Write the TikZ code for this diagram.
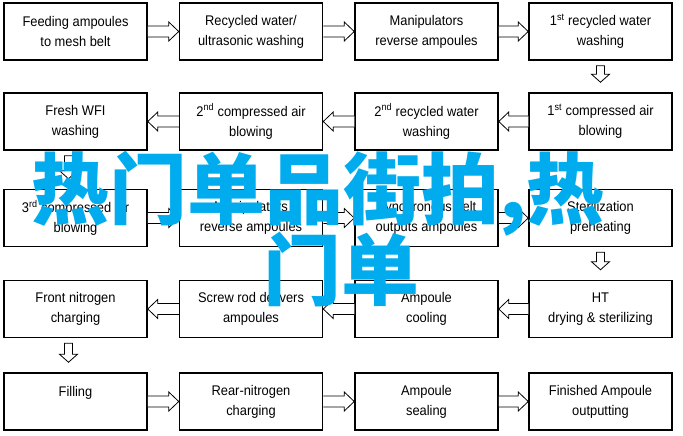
\documentclass[tikz,border=0pt]{standalone}
\usepackage{fontspec}
\setmainfont{Liberation Sans}[FakeStretch=0.92]
\newfontfamily\cjk{Noto Sans CJK SC}
\usetikzlibrary{calc}
\definecolor{overlaycyan}{RGB}{0,172,238}
\newcommand\rarr[2]{\path[arr] let \p1=(#1.east), \p2=(#2.west) in
  (\x1,\y1+5.5pt) -- (\x2-10pt,\y1+5.5pt) -- (\x2-10pt,\y1+9.5pt) -- (\x2,\y1)
  -- (\x2-10pt,\y1-9.5pt) -- (\x2-10pt,\y1-5.5pt) -- (\x1,\y1-5.5pt);}
\newcommand\larr[2]{\path[arr] let \p1=(#1.west), \p2=(#2.east) in
  (\x1,\y1+5.5pt) -- (\x2+10pt,\y1+5.5pt) -- (\x2+10pt,\y1+9.5pt) -- (\x2,\y1)
  -- (\x2+10pt,\y1-9.5pt) -- (\x2+10pt,\y1-5.5pt) -- (\x1,\y1-5.5pt);}
\newcommand\darr[3][0pt]{\path[arr] let \p1=(#2.south), \p2=(#3.north) in
  (\x1+#1-4pt,\y1-5pt) -- (\x1+#1-4pt,\y2+18pt) -- (\x1+#1-9pt,\y2+18pt) -- (\x1+#1,\y2+10pt)
  -- (\x1+#1+9pt,\y2+18pt) -- (\x1+#1+4pt,\y2+18pt) -- (\x1+#1+4pt,\y1-5pt) -- cycle;}
\begin{document}
\begin{tikzpicture}[x=1pt,y=-1pt,
  box/.style={draw, line width=1.5pt, minimum width=143pt, minimum height=57pt,
    align=center, inner sep=0pt, font=\fontsize{14}{20}\selectfont},
  arr/.style={draw, line width=0.8pt, fill=white, line join=miter},
  overlay/.style={inner sep=0pt, text=overlaycyan, font=\cjk\bfseries\fontsize{78}{80}\selectfont}]
\useasboundingbox (0,0) rectangle (683,436);
% row 1
\node[box] (r1a) at (75.5,31.5) {Feeding ampoules\\to mesh belt};
\node[box] (r1b) at (251,31.5) {Recycled water/\\ultrasonic washing};
\node[box] (r1c) at (426.5,31.5) {Manipulators\\reverse ampoules};
\node[box] (r1d) at (600.5,31.5) {1\textsuperscript{st} recycled water\\washing};
% row 2
\node[box] (r2a) at (75.5,121.5) {Fresh WFI\\washing};
\node[box] (r2b) at (251,121.5) {2\textsuperscript{nd} compressed air\\blowing};
\node[box] (r2c) at (426.5,121.5) {2\textsuperscript{nd} recycled water\\washing};
\node[box] (r2d) at (600.5,121.5) {1\textsuperscript{st} compressed air\\blowing};
% row 3
\node[box] (r3a) at (75.5,218) {3\textsuperscript{rd} compressed air\\blowing};
\node[box] (r3b) at (251,218) {Manipulators\\reverse ampoules};
\node[box] (r3c) at (426.5,218) {Synchronous belt\\outputs ampoules};
\node[box] (r3d) at (600.5,218) {Sterilization\\preheating};
% row 4
\node[box] (r4a) at (75.5,309) {Front nitrogen\\charging};
\node[box] (r4b) at (251,309) {Screw rod delivers\\ampoules};
\node[box] (r4c) at (426.5,309) {Ampoule\\cooling};
\node[box] (r4d) at (600.5,309) {HT\\drying \& sterilizing};
% row 5
\node[box] (r5a) at (75.5,401.5) {Filling\\\mbox{}};
\node[box] (r5b) at (251,401.5) {Rear-nitrogen\\charging};
\node[box] (r5c) at (426.5,401.5) {Ampoule\\sealing};
\node[box] (r5d) at (600.5,401.5) {Finished Ampoule\\outputting};
% connectors
\rarr{r1a}{r1b} \rarr{r1b}{r1c} \rarr{r1c}{r1d}
\darr{r1d}{r2d}
\larr{r2d}{r2c} \larr{r2c}{r2b} \larr{r2b}{r2a}
\darr[-7pt]{r2a}{r3a}
\rarr{r3a}{r3b} \rarr{r3b}{r3c} \rarr{r3c}{r3d}
\darr{r3d}{r4d}
\larr{r4d}{r4c} \larr{r4c}{r4b} \larr{r4b}{r4a}
\darr[-7pt]{r4a}{r5a}
\rarr{r5a}{r5b} \rarr{r5b}{r5c} \rarr{r5c}{r5d}
% overlay text
\node[overlay, anchor=base west] (ov1) at (31,218) {热门单品街拍,热};
\node[overlay, anchor=base west] (ov2) at (263,299) {门单};
\end{tikzpicture}
\end{document}
